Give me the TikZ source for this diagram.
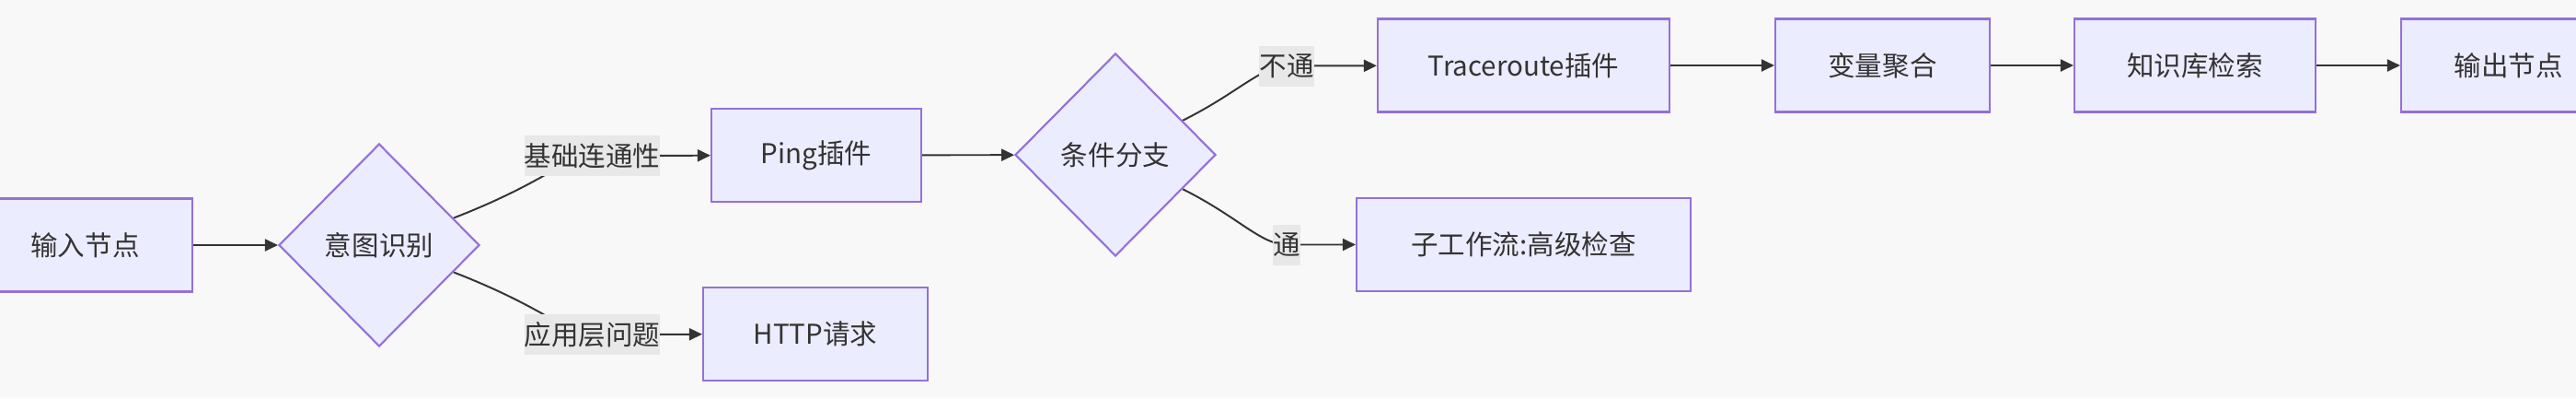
\documentclass[tikz,border=0pt]{standalone}
\usepackage{fontspec}
\setmainfont{Noto Sans CJK SC}
\usetikzlibrary{
  arrows.meta,
  shapes.geometric,
  backgrounds,
}
\definecolor{nodefill}{HTML}{ECECFF}
\definecolor{nodeline}{HTML}{9370DB}
\definecolor{ink}{HTML}{333333}
\definecolor{pagebg}{HTML}{F8F8F8}
\definecolor{labelbg}{HTML}{E8E8E8}
\tikzset{
  >={Triangle[length=0.14cm,width=0.13cm]},
  font=\fontsize{8.4pt}{10pt}\selectfont,
  every node/.append style={text=ink},
  box/.style={
    draw=nodeline,
    fill=nodefill,
    line width=0.6pt,
    inner sep=0pt,
    minimum height=1.01cm,
  },
  choice/.style={
    shape=diamond,
    aspect=1,
    draw=nodeline,
    fill=nodefill,
    line width=0.6pt,
    inner sep=0pt,
    minimum width=2.18cm,
    minimum height=2.2cm,
  },
  edgetag/.style={fill=labelbg, inner sep=0pt, minimum height=0.44cm},
  flow/.style={draw=ink, line width=0.55pt, ->},
}

\begin{document}
\begin{tikzpicture}[x=1cm,y=1cm]
  \useasboundingbox (0,0) rectangle (27.99,4.32);
  \begin{scope}[on background layer]
    \fill[pagebg] (0,0) rectangle (27.99,4.32);
  \end{scope}
  \clip (0,0) rectangle (27.99,4.32);

  % main line
  \node[box, minimum width=2.33cm] (in) at (0.925,1.66) {输入节点};
  \node[choice] (intent) at (4.12,1.66) {意图识别};
  \node[box, minimum width=2.28cm] (ping) at (8.87,2.635) {Ping插件};
  \node[box, minimum width=2.44cm] (http) at (8.86,0.695) {HTTP请求};
  \node[choice] (cond) at (12.12,2.64) {条件分支};
  \node[box, minimum width=3.17cm] (trace) at (16.555,3.61) {Traceroute插件};
  \node[box, minimum width=3.63cm] (sub) at (16.555,1.665) {子工作流:高级检查};
  \node[box, minimum width=2.33cm] (agg) at (20.455,3.61) {变量聚合};
  \node[box, minimum width=2.62cm] (kb) at (23.85,3.61) {知识库检索};
  \node[box, minimum width=2.33cm] (out) at (27.255,3.61) {输出节点};

  % edge labels
  \node[edgetag] (basic) at (6.435,2.63) {基础连通性};
  \node[edgetag] (app) at (6.435,0.69) {应用层问题};
  \node[edgetag] (down) at (13.98,3.605) {不通};
  \node[edgetag] (up) at (13.98,1.665) {通};

  % connectors, kept under the labels
  \begin{scope}[on background layer]
    \draw[flow] (in) -- (intent);
    \draw[flow] (intent.20) .. controls (5.95,2.35) and (6.15,2.63) .. (basic.center) -- (ping);
    \draw[flow] (intent.-20) .. controls (5.95,0.97) and (6.15,0.69) .. (app.center) -- (http);
    \draw[flow] (ping) -- (cond);
    \draw[flow] (cond.27) .. controls (13.45,3.31) and (13.7,3.6) .. (down.center) -- (trace);
    \draw[flow] (cond.-27) .. controls (13.45,1.97) and (13.7,1.665) .. (up.center) -- (sub);
    \draw[flow] (trace) -- (agg);
    \draw[flow] (agg) -- (kb);
    \draw[flow] (kb) -- (out);
  \end{scope}
\end{tikzpicture}
\end{document}
